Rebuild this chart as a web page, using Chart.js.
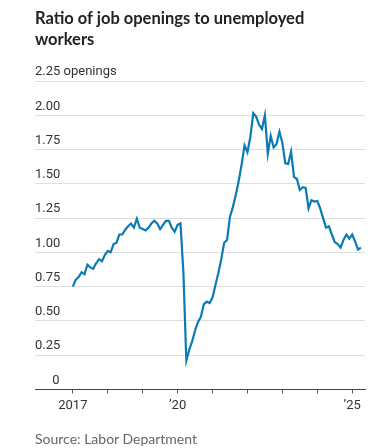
<!DOCTYPE html>
<html>
<head>
<meta charset="utf-8">
<script src="https://cdn.jsdelivr.net/npm/chart.js@4"></script>
<style>
	body { margin: 0; background: #fff; }
	#wrap { position: relative; width: 368px; height: 448px; }
	#title {
		position: absolute; left: 35px; top: 8px; width: 330px;
		font: bold 16.5px/21px Lato, "Liberation Sans", sans-serif; color: #222;
	}
	#source {
		position: absolute; left: 35px; top: 430px;
		font: 14px/18px Lato, "Liberation Sans", sans-serif; color: #666;
	}
</style>
</head>
<body>
<div id="wrap">
	<canvas id="chart"></canvas>
	<div id="title">Ratio of job openings to unemployed<br>workers</div>
	<div id="source">Source: Labor Department</div>
</div>
<script>
// monthly, Jan 2017 onwards
const ratio = [
	0.75, 0.80, 0.82, 0.855, 0.84, 0.91, 0.89, 0.88, 0.92, 0.95, 0.935, 0.98,
	1.01, 1.00, 1.06, 1.07, 1.13, 1.13, 1.165, 1.19, 1.21, 1.18, 1.245, 1.18,
	1.17, 1.16, 1.18, 1.21, 1.23, 1.21, 1.17, 1.20, 1.23, 1.23, 1.18, 1.15,
	1.20, 1.21, 0.85, 0.21, 0.29, 0.35, 0.43, 0.49, 0.53, 0.62, 0.64, 0.63,
	0.67, 0.76, 0.85, 0.95, 1.07, 1.09, 1.26, 1.33, 1.42, 1.52, 1.64, 1.78,
	1.73, 1.84, 2.015, 1.99, 1.93, 1.90, 2.00, 1.72, 1.85, 1.765, 1.79, 1.88,
	1.80, 1.65, 1.645, 1.735, 1.55, 1.535, 1.455, 1.475, 1.47, 1.32, 1.38, 1.37,
	1.375, 1.32, 1.25, 1.18, 1.19, 1.13, 1.075, 1.06, 1.035, 1.09, 1.13, 1.10,
	1.13, 1.08, 1.02, 1.035
];

const yearTickMonths = [0, 12, 24, 36, 48, 60, 72, 84, 96];
const yearTickLabels = ['2017', '', '', '\u201920', '', '', '', '', '\u201925'];

const yTickValues = [0, 0.25, 0.5, 0.75, 1, 1.25, 1.5, 1.75, 2, 2.25];
const yTickLabels = ['\u2007\u2007\u20090', '0.25', '0.50', '0.75', '1.00', '1.25', '1.50', '1.75', '2.00', '2.25 openings'];

const tickFont = { family: 'Roboto, "Liberation Sans", sans-serif', size: 13 };

const ctx = document.getElementById('chart').getContext('2d');

const myChart = new Chart(ctx, {
	type: 'line',
	data: {
		datasets: [{
			data: ratio.map((v, i) => ({ x: i, y: v })),
			borderColor: '#0b7bb4',
			borderWidth: 2.2,
			pointRadius: 0,
			tension: 0,
			fill: false
		}]
	},
	options: {
		responsive: true,
		maintainAspectRatio: false,
		animation: false,
		layout: {
			padding: { top: 81, left: 35, right: 3, bottom: 29 }
		},
		plugins: {
			legend: { display: false },
			tooltip: { enabled: false }
		},
		scales: {
			x: {
				type: 'linear',
				min: -13,
				max: 100.4,
				afterBuildTicks: scale => {
					scale.ticks = yearTickMonths.map(v => ({ value: v }));
				},
				ticks: {
					autoSkip: false,
					maxRotation: 0,
					padding: 5,
					color: '#333',
					font: tickFont,
					callback: v => yearTickLabels[yearTickMonths.indexOf(v)]
				},
				grid: {
					drawOnChartArea: false,
					drawTicks: true,
					tickLength: 4,
					color: '#555'
				},
				border: { display: true, color: '#444', width: 1 }
			},
			y: {
				min: 0,
				max: 2.25,
				afterBuildTicks: scale => {
					scale.ticks = yTickValues.map(v => ({ value: v }));
				},
				ticks: {
					mirror: true,
					padding: 0,
					labelOffset: -9,
					color: '#333',
					font: tickFont,
					callback: v => yTickLabels[yTickValues.indexOf(v)]
				},
				grid: {
					drawTicks: false,
					color: c => c.tick && c.tick.value === 0 ? 'rgba(0,0,0,0)' : '#dedede',
					lineWidth: 1
				},
				border: { display: false }
			}
		}
	}
});
</script>
</body>
</html>
